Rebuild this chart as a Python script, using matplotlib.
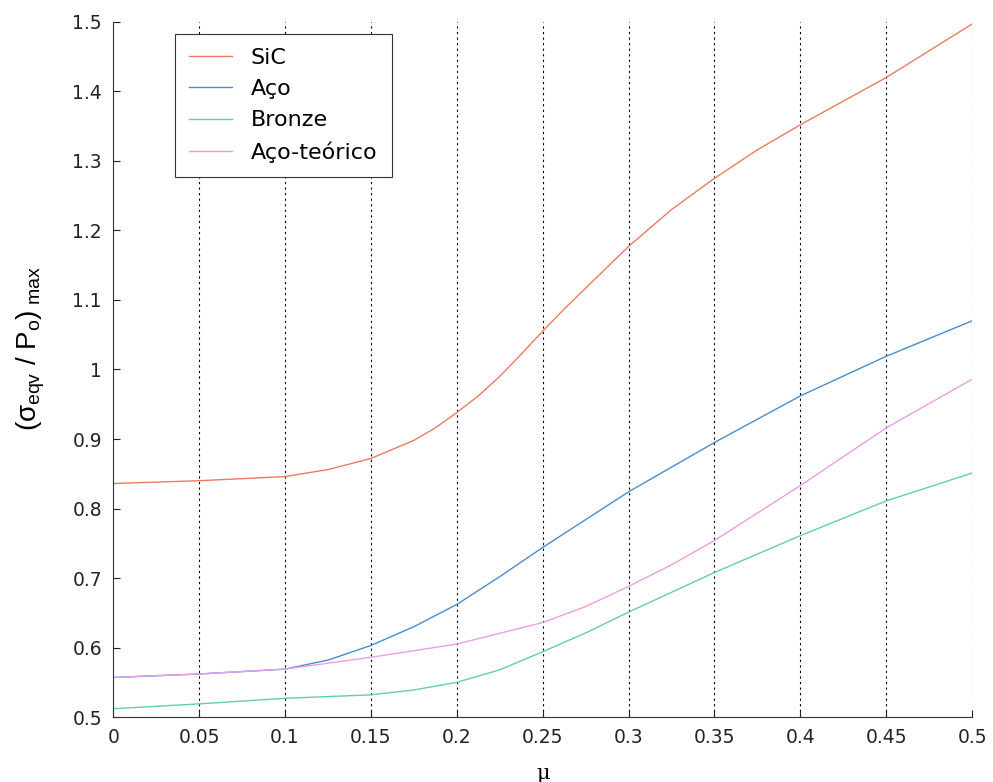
import numpy as np
import matplotlib
matplotlib.use('Agg')
import matplotlib.pyplot as plt

plt.rcParams['font.family'] = ['DejaVu Sans']
plt.rcParams['mathtext.fontset'] = 'custom'
plt.rcParams['mathtext.rm'] = 'Liberation Sans'
plt.rcParams['mathtext.it'] = 'Liberation Sans'

# values
mu_sic = [0, 0.05, 0.1, 0.125, 0.15, 0.175, 0.1875, 0.2, 0.2125, 0.225, 0.2375, 0.25,
          0.2625, 0.275, 0.3, 0.325, 0.35, 0.375, 0.4, 0.45, 0.5]
sic = [0.836, 0.840, 0.846, 0.856, 0.872, 0.898, 0.916, 0.938, 0.962, 0.990, 1.022, 1.055,
       1.087, 1.117, 1.177, 1.230, 1.275, 1.316, 1.352, 1.42, 1.497]

mu_aco = [0, 0.05, 0.1, 0.125, 0.15, 0.175, 0.2, 0.225, 0.25, 0.3, 0.35, 0.4, 0.45, 0.5]
aco = [0.557, 0.562, 0.569, 0.582, 0.603, 0.630, 0.662, 0.702, 0.744, 0.824, 0.895, 0.962, 1.019, 1.07]

mu_bronze = [0, 0.05, 0.1, 0.15, 0.175, 0.2, 0.225, 0.25, 0.275, 0.3, 0.35, 0.4, 0.45, 0.5]
bronze = [0.512, 0.519, 0.527, 0.532, 0.539, 0.55, 0.568, 0.594, 0.621, 0.651, 0.708, 0.761, 0.811, 0.851]

mu_teo = [0, 0.05, 0.1, 0.15, 0.2, 0.25, 0.275, 0.3, 0.325, 0.35, 0.4, 0.45, 0.5]
aco_teo = [0.557, 0.562, 0.569, 0.586, 0.605, 0.636, 0.659, 0.688, 0.719, 0.754, 0.833, 0.916, 0.986]

xticks = [0, 0.05, 0.1, 0.15, 0.2, 0.25, 0.3, 0.35, 0.4, 0.45, 0.5]
yticks = [0.5, 0.6, 0.7, 0.8, 0.9, 1.0, 1.1, 1.2, 1.3, 1.4, 1.5]

fig = plt.figure(figsize=(9.93, 7.82), dpi=100)
ax = fig.add_axes([0.114, 0.083, 0.865, 0.889])

ax.plot(mu_sic, sic, color='#ec7b62', lw=1.0, label='SiC')
ax.plot(mu_aco, aco, color='#4a8cd2', lw=1.0, label='Aço')
ax.plot(mu_bronze, bronze, color='#62cfa6', lw=1.0, label='Bronze')
ax.plot(mu_teo, aco_teo, color='#ea9ee6', lw=1.0, label='Aço-teórico')

ax.set_xlim(0, 0.5)
ax.set_ylim(0.5, 1.5)
ax.set_xticks(xticks)
ax.set_yticks(yticks)
ax.set_xticklabels(['%g' % v for v in xticks])
ax.set_yticklabels(['%g' % v for v in yticks])
ax.tick_params(direction='in', length=5, width=0.8, labelsize=13.5, colors='#222222', pad=8)

for v in xticks[1:]:
    ax.axvline(v, color='black', lw=0.8, ls=(0, (2, 3)), zorder=0)

ax.spines['top'].set_visible(False)
ax.spines['right'].set_visible(False)
ax.spines['left'].set_color('#333333')
ax.spines['bottom'].set_color('#333333')

ax.set_ylabel(r'$(\sigma_{eqv}\ /\ P_o)_{\ max}$', fontsize=20)
ax.yaxis.set_label_coords(-0.077, 0.53)
ax.set_xlabel(u'\u03bc', fontsize=15, family=['DejaVu Serif'], labelpad=12)

leg = ax.legend(loc='upper left', bbox_to_anchor=(0.072, 0.983), borderaxespad=0,
                prop={'size': 16}, fancybox=False, framealpha=1, edgecolor='#333333',
                handlelength=1.9, handletextpad=0.85, borderpad=0.65, labelspacing=0.5)
leg.get_frame().set_linewidth(0.8)

fig.savefig('out.png', dpi=100)
